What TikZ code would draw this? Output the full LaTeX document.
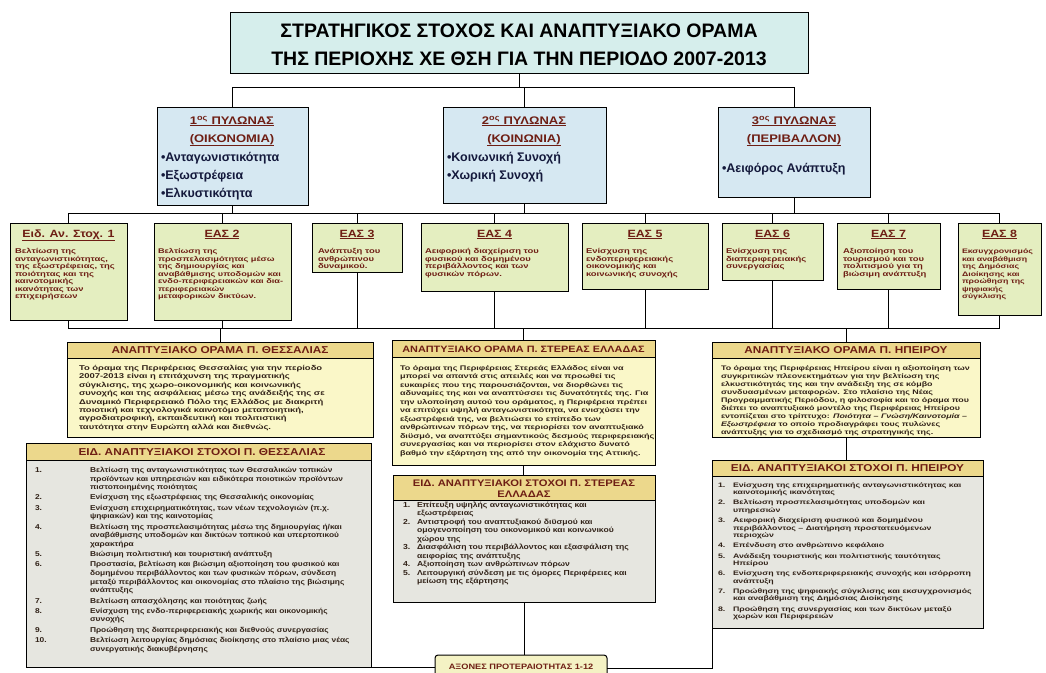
\documentclass[tikz,border=0pt]{standalone}
\usepackage{fontspec}
\setmainfont{Liberation Sans}
\newfontfamily\wa[FakeStretch=1.35]{Liberation Sans}
\newfontfamily\wb[FakeStretch=1.18]{Liberation Sans}
\definecolor{titlefill}{RGB}{214,238,236}
\definecolor{pilfill}{RGB}{214,232,242}
\definecolor{easfill}{RGB}{228,238,192}
\definecolor{hdrfill}{RGB}{236,216,140}
\definecolor{visfill}{RGB}{250,247,200}
\definecolor{goalfill}{RGB}{230,230,224}
\definecolor{axfill}{RGB}{244,242,196}
\definecolor{hred}{RGB}{110,30,20}
\definecolor{btxt}{RGB}{50,35,25}
\definecolor{navy}{RGB}{20,25,60}
\tikzset{
  bx/.style={draw=black, line width=1pt, anchor=north west, inner sep=0pt, outer sep=0pt},
  tx/.style={anchor=north west, inner sep=0pt, outer sep=0pt, align=left},
  tc/.style={anchor=north, inner sep=0pt, outer sep=0pt, align=center},
  tb/.style={anchor=base, inner sep=0pt, outer sep=0pt},
  conn/.style={draw=black, line width=0.9pt},
}
\newcommand\mkbox[6]{\node[bx, fill=#6, minimum width=#4pt, minimum height=#5pt] (#1) at (#2,#3) {};}
\begin{document}
\begin{tikzpicture}[x=1pt,y=-1pt]
\useasboundingbox[fill=white] (0,0) rectangle (1046,672);
% ---------- boxes ----------
\mkbox{title}{230}{12}{578}{61}{titlefill}
\mkbox{p1}{157}{107}{151}{98}{pilfill}
\mkbox{p2}{443}{107}{163}{96}{pilfill}
\mkbox{p3}{718}{107}{152}{90}{pilfill}
\mkbox{e1}{10}{223}{117}{97}{easfill}
\mkbox{e2}{154}{223}{137}{97}{easfill}
\mkbox{e3}{312}{223}{90}{49}{easfill}
\mkbox{e4}{421}{223}{147}{68}{easfill}
\mkbox{e5}{582}{223}{126}{66}{easfill}
\mkbox{e6}{722}{223}{101}{57}{easfill}
\mkbox{e7}{837}{223}{103}{66}{easfill}
\mkbox{e8}{958}{223}{83}{92}{easfill}
\mkbox{thvh}{67}{342}{306}{16}{hdrfill}
\mkbox{thv}{67}{358}{306}{79}{visfill}
\mkbox{stvh}{392}{340}{263}{17}{hdrfill}
\mkbox{stv}{392}{357}{263}{108}{visfill}
\mkbox{epvh}{712}{342}{268}{16}{hdrfill}
\mkbox{epv}{712}{358}{268}{79}{visfill}
\mkbox{thgh}{26}{443}{345}{17}{hdrfill}
\mkbox{thg}{26}{460}{345}{207}{goalfill}
\mkbox{stgh}{393}{475}{262}{25}{hdrfill}
\mkbox{stg}{393}{500}{262}{102}{goalfill}
\mkbox{epgh}{712}{460}{271}{16}{hdrfill}
\mkbox{epg}{712}{476}{271}{152}{goalfill}
\node[bx, fill=axfill, rounded corners=3pt, minimum width=172pt, minimum height=28pt] (ax) at (435,655) {};
% ---------- connectors ----------
\coordinate (b1) at (0,87);
\coordinate (b2) at (0,213);
\coordinate (b3) at (0,328);
\coordinate (b4) at (0,668);
\draw[conn] (title.south) -- (title.south |- b1);
\draw[conn] (p1.north) -- (p1.north |- b1) -- (p3.north |- b1) -- (p3.north);
\draw[conn] (p2.north) -- (p2.north |- b1);
\foreach \n in {p1,p2,p3} {\draw[conn] (\n.south) -- (\n.south |- b2);}
\draw[conn] (e1.north) -- (e1.north |- b2) -- (e8.north |- b2) -- (e8.north);
\foreach \n in {e2,e3,e4,e5,e6,e7} {\draw[conn] (\n.north) -- (\n.north |- b2);}
\draw[conn] (e1.south) -- (e1.south |- b3) -- (e8.south |- b3) -- (e8.south);
\foreach \n in {e2,e3,e4,e5,e6,e7} {\draw[conn] (\n.south) -- (\n.south |- b3);}
\foreach \n in {thvh,stvh,epvh} {\draw[conn] (\n.north) -- (\n.north |- b3);}
\draw[conn] (stv.south) -- (stv.south |- stgh.north);
\draw[conn] (epv.south) -- (epv.south |- epgh.north);
\draw[conn] (stg.south) -- (stg.south |- ax.north);
\draw[conn] (thg.south east) -- (ax.west |- thg.south east);
\draw[conn] (epg.south west) -- (epg.south west |- b4) -- (ax.east |- b4);
% ---------- title ----------
\node[tc, font=\bfseries\fontsize{19.5}{28}\selectfont] (titletext) at (519,17.4)
 {\begin{tabular}{@{}c@{}}ΣΤΡΑΤΗΓΙΚΟΣ ΣΤΟΧΟΣ ΚΑΙ ΑΝΑΠΤΥΞΙΑΚΟ ΟΡΑΜΑ\\ ΤΗΣ ΠΕΡΙΟΧΗΣ ΧΕ ΘΣΗ ΓΙΑ ΤΗΝ ΠΕΡΙΟΔΟ 2007-2013\end{tabular}};
% ---------- pillars ----------
\tikzset{ph/.style={tc, text=hred, font=\wb\bfseries\fontsize{11}{18}\selectfont},
         pb/.style={tx, text=navy, font=\bfseries\fontsize{12.5}{18}\selectfont}}
\node[ph] (p1h) at (232,111.4)
 {\begin{tabular}{@{}c@{}}\underline{1\textsuperscript{ος} ΠΥΛΩΝΑΣ}\\ \underline{(ΟΙΚΟΝΟΜΙΑ)}\end{tabular}};
\node[pb] (p1b) at (161,148.9)
 {\begin{tabular}{@{}l@{}}•Ανταγωνιστικότητα\\ •Εξωστρέφεια\\ •Ελκυστικότητα\end{tabular}};
\node[ph] (p2h) at (524,111.4)
 {\begin{tabular}{@{}c@{}}\underline{2\textsuperscript{ος} ΠΥΛΩΝΑΣ}\\ \underline{(ΚΟΙΝΩΝΙΑ)}\end{tabular}};
\node[pb] (p2b) at (447,148.9)
 {\begin{tabular}{@{}l@{}}•Κοινωνική Συνοχή\\ •Χωρική Συνοχή\end{tabular}};
\node[ph] (p3h) at (794,111.4)
 {\begin{tabular}{@{}c@{}}\underline{3\textsuperscript{ος} ΠΥΛΩΝΑΣ}\\ \underline{(ΠΕΡΙΒΑΛΛΟΝ)}\end{tabular}};
\node[pb] (p3b) at (722,160)
 {\begin{tabular}{@{}l@{}}•Αειφόρος Ανάπτυξη\end{tabular}};
% ---------- EAS ----------
\tikzset{eh/.style={tb, text=hred, font=\wb\bfseries\fontsize{10.5}{12}\selectfont},
         eb/.style={tx, text=hred, font=\wa\bfseries\fontsize{7}{7.5}\selectfont}}
\node[eh] (e1h) at (68.5,237) {\underline{Ειδ. Αν. Στοχ. 1}};
\node[eb] (e1t) at (15,248.7) {\begin{tabular}{@{}l@{}}Βελτίωση της\\ ανταγωνιστικότητας,\\ της εξωστρέφειας, της\\ ποιότητας και της\\ καινοτομικής\\ ικανότητας των\\ επιχειρήσεων\end{tabular}};
\node[eh] (e2h) at (222,237) {\underline{ΕΑΣ 2}};
\node[eb, font=\wa\bfseries\fontsize{6.8}{7.5}\selectfont] (e2t) at (158,248.7) {\begin{tabular}{@{}l@{}}Βελτίωση της\\ προσπελασιμότητας μέσω\\ της δημιουργίας και\\ αναβάθμισης υποδομών και\\ ενδο-περιφερειακών και δια-\\ περιφερειακών\\ μεταφορικών δικτύων.\end{tabular}};
\node[eh] (e3h) at (357,237) {\underline{ΕΑΣ 3}};
\node[eb] (e3t) at (318,248.7) {\begin{tabular}{@{}l@{}}Ανάπτυξη του\\ ανθρώπινου\\ δυναμικού.\end{tabular}};
\node[eh] (e4h) at (494.5,237) {\underline{ΕΑΣ 4}};
\node[eb] (e4t) at (425,248.7) {\begin{tabular}{@{}l@{}}Αειφορική διαχείριση του\\ φυσικού και δομημένου\\ περιβάλλοντος και των\\ φυσικών πόρων.\end{tabular}};
\node[eh] (e5h) at (645,237) {\underline{ΕΑΣ 5}};
\node[eb] (e5t) at (586,248.7) {\begin{tabular}{@{}l@{}}Ενίσχυση της\\ ενδοπεριφερειακής\\ οικονομικής και\\ κοινωνικής συνοχής\end{tabular}};
\node[eh] (e6h) at (772.5,237) {\underline{ΕΑΣ 6}};
\node[eb] (e6t) at (726,248.7) {\begin{tabular}{@{}l@{}}Ενίσχυση της\\ διαπεριφερειακής\\ συνεργασίας\end{tabular}};
\node[eh] (e7h) at (888.5,237) {\underline{ΕΑΣ 7}};
\node[eb] (e7t) at (843,248.7) {\begin{tabular}{@{}l@{}}Αξιοποίηση του\\ τουρισμού και του\\ πολιτισμού για τη\\ βιώσιμη ανάπτυξη\end{tabular}};
\node[eh] (e8h) at (999.5,237) {\underline{ΕΑΣ 8}};
\node[eb, font=\wa\bfseries\fontsize{6.5}{7.5}\selectfont] (e8t) at (962,248.7) {\begin{tabular}{@{}l@{}}Εκσυγχρονισμός\\ και αναβάθμιση\\ της Δημόσιας\\ Διοίκησης και\\ προώθηση της\\ ψηφιακής\\ σύγκλισης\end{tabular}};
% ---------- vision ----------
\tikzset{vh/.style={tb, text=hred, font=\wb\bfseries\fontsize{10}{12}\selectfont},
         vb/.style={tx, text=btxt, font=\wa\bfseries\fontsize{7}{8.4}\selectfont}}
\node[vh] (thvht) at (220,353.5) {ΑΝΑΠΤΥΞΙΑΚΟ ΟΡΑΜΑ Π. ΘΕΣΣΑΛΙΑΣ};
\node[vb] (thvt) at (79,364.6) {\begin{tabular}{@{}l@{}}Το όραμα της Περιφέρειας Θεσσαλίας για την περίοδο\\ 2007-2013 είναι η επιτάχυνση της πραγματικής\\ σύγκλισης, της χωρο-οικονομικής και κοινωνικής\\ συνοχής και της ασφάλειας μέσω της ανάδειξής της σε\\ Δυναμικό Περιφερειακό Πόλο της Ελλάδος με διακριτή\\ ποιοτική και τεχνολογικά καινοτόμο μεταποιητική,\\ αγροδιατροφική, εκπαιδευτική και πολιτιστική\\ ταυτότητα στην Ευρώπη αλλά και διεθνώς.\end{tabular}};
\node[vh, font=\wb\bfseries\fontsize{9.2}{12}\selectfont] (stvht) at (523.5,352) {ΑΝΑΠΤΥΞΙΑΚΟ ΟΡΑΜΑ Π. ΣΤΕΡΕΑΣ ΕΛΛΑΔΑΣ};
\node[vb, font=\wa\bfseries\fontsize{6.7}{8.5}\selectfont] (stvt) at (400,364.5) {\begin{tabular}{@{}l@{}}Το όραμα της Περιφέρειας Στερεάς Ελλάδος είναι να\\ μπορεί να απαντά στις απειλές και να προωθεί τις\\ ευκαιρίες που της παρουσιάζονται, να διορθώνει τις\\ αδυναμίες της και να αναπτύσσει τις δυνατότητές της. Για\\ την υλοποίηση αυτού του οράματος, η Περιφέρεια πρέπει\\ να επιτύχει υψηλή ανταγωνιστικότητα, να ενισχύσει την\\ εξωστρέφειά της, να βελτιώσει το επίπεδο των\\ ανθρώπινων πόρων της, να περιορίσει τον αναπτυξιακό\\ διϋσμό, να αναπτύξει σημαντικούς δεσμούς περιφερειακής\\ συνεργασίας και να περιορίσει στον ελάχιστο δυνατό\\ βαθμό την εξάρτηση της από την οικονομία της Αττικής.\end{tabular}};
\node[vh] (epvht) at (846,353.5) {ΑΝΑΠΤΥΞΙΑΚΟ ΟΡΑΜΑ Π. ΗΠΕΙΡΟΥ};
\node[vb, font=\wa\bfseries\fontsize{6.6}{8}\selectfont] (epvt) at (721,365.2) {\begin{tabular}{@{}l@{}}Το όραμα της Περιφέρειας Ηπείρου είναι η αξιοποίηση των\\ συγκριτικών πλεονεκτημάτων για την βελτίωση της\\ ελκυστικότητάς της και την ανάδειξη της σε κόμβο\\ συνδυασμένων μεταφορών. Στο πλαίσιο της Νέας\\ Προγραμματικής Περιόδου, η φιλοσοφία και το όραμα που\\ διέπει το αναπτυξιακό μοντέλο της Περιφέρειας Ηπείρου\\ εντοπίζεται στο τρίπτυχο: \itshape Ποιότητα – Γνώση/Καινοτομία –\\ \itshape Εξωστρέφεια \upshape το οποίο προδιαγράφει τους πυλώνες\\ ανάπτυξης για το σχεδιασμό της στρατηγικής της.\end{tabular}};
% ---------- goals ----------
\node[vh] (thght) at (202,455) {ΕΙΔ. ΑΝΑΠΤΥΞΙΑΚΟΙ ΣΤΟΧΟΙ Π. ΘΕΣΣΑΛΙΑΣ};
\node[tx, text=btxt, font=\wb\bfseries\fontsize{7.1}{8.6}\selectfont] (thgt) at (35,466.4) {\begin{tabular}{@{}p{55pt}@{}l@{}}
1. & Βελτίωση της ανταγωνιστικότητας των Θεσσαλικών τοπικών\\
 & προϊόντων και υπηρεσιών και ειδικότερα ποιοτικών προϊόντων\\
 & πιστοποιημένης ποιότητας\\[1.7pt]
2. & Ενίσχυση της εξωστρέφειας της Θεσσαλικής οικονομίας\\[1.7pt]
3. & Ενίσχυση επιχειρηματικότητας, των νέων τεχνολογιών (π.χ.\\
 & ψηφιακών) και της καινοτομίας\\[1.7pt]
4. & Βελτίωση της προσπελασιμότητας μέσω της δημιουργίας ή/και\\
 & αναβάθμισης υποδομών και δικτύων τοπικού και υπερτοπικού\\
 & χαρακτήρα\\[1.7pt]
5. & Βιώσιμη πολιτιστική και τουριστική ανάπτυξη\\[1.7pt]
6. & Προστασία, βελτίωση και βιώσιμη αξιοποίηση του φυσικού και\\
 & δομημένου περιβάλλοντος και των φυσικών πόρων, σύνδεση\\
 & μεταξύ περιβάλλοντος και οικονομίας στο πλαίσιο της βιώσιμης\\
 & ανάπτυξης\\[1.7pt]
7. & Βελτίωση απασχόλησης και ποιότητας ζωής\\[1.7pt]
8. & Ενίσχυση της ενδο-περιφερειακής χωρικής και οικονομικής\\
 & συνοχής\\[1.7pt]
9. & Προώθηση της διαπεριφερειακής και διεθνούς συνεργασίας\\[1.7pt]
10. & Βελτίωση λειτουργίας δημόσιας διοίκησης στο πλαίσιο μιας νέας\\
 & συνεργατικής διακυβέρνησης
\end{tabular}};
\node[tc, text=hred, font=\wb\bfseries\fontsize{9.5}{10.5}\selectfont] (stght) at (524,479.2) {\begin{tabular}{@{}c@{}}ΕΙΔ. ΑΝΑΠΤΥΞΙΑΚΟΙ ΣΤΟΧΟΙ Π. ΣΤΕΡΕΑΣ\\ ΕΛΛΑΔΑΣ\end{tabular}};
\node[tx, text=btxt, font=\wb\bfseries\fontsize{7.3}{8.5}\selectfont] (stgt) at (403,501.5) {\begin{tabular}{@{}p{14pt}@{}l@{}}
1. & Επίτευξη υψηλής ανταγωνιστικότητας και\\
 & εξωστρέφειας\\
2. & Αντιστροφή του αναπτυξιακού διϋσμού και\\
 & ομογενοποίηση του οικονομικού και κοινωνικού\\
 & χώρου της\\
3. & Διασφάλιση του περιβάλλοντος και εξασφάλιση της\\
 & αειφορίας της ανάπτυξης\\
4. & Αξιοποίηση των ανθρώπινων πόρων\\
5. & Λειτουργική σύνδεση με τις όμορες Περιφέρειες και\\
 & μείωση της εξάρτησης
\end{tabular}};
\node[vh] (epght) at (847.5,471.5) {ΕΙΔ. ΑΝΑΠΤΥΞΙΑΚΟΙ ΣΤΟΧΟΙ Π. ΗΠΕΙΡΟΥ};
\node[tx, text=btxt, font=\wa\bfseries\fontsize{6.5}{7.4}\selectfont] (epgt) at (718,482.1) {\begin{tabular}{@{}p{15pt}@{}l@{}}
1. & Ενίσχυση της επιχειρηματικής ανταγωνιστικότητας και\\
 & καινοτομικής ικανότητας\\[2.9pt]
2. & Βελτίωση προσπελασιμότητας υποδομών και\\
 & υπηρεσιών\\[2.9pt]
3. & Αειφορική διαχείριση φυσικού και δομημένου\\
 & περιβάλλοντος – Διατήρηση προστατευόμενων\\
 & περιοχών\\[2.9pt]
4. & Επένδυση στο ανθρώπινο κεφάλαιο\\[2.9pt]
5. & Ανάδειξη τουριστικής και πολιτιστικής ταυτότητας\\
 & Ηπείρου\\[2.9pt]
6. & Ενίσχυση της ενδοπεριφερειακής συνοχής και ισόρροπη\\
 & ανάπτυξη\\[2.9pt]
7. & Προώθηση της ψηφιακής σύγκλισης και εκσυγχρονισμός\\
 & και αναβάθμιση της Δημόσιας Διοίκησης\\[2.9pt]
8. & Προώθηση της συνεργασίας και των δικτύων μεταξύ\\
 & χωρών και Περιφερειών
\end{tabular}};
\node[tb, text=hred, font=\wb\bfseries\fontsize{7.8}{9}\selectfont] (axt) at (521,669) {ΑΞΟΝΕΣ ΠΡΟΤΕΡΑΙΟΤΗΤΑΣ 1-12};
\end{tikzpicture}
\end{document}
